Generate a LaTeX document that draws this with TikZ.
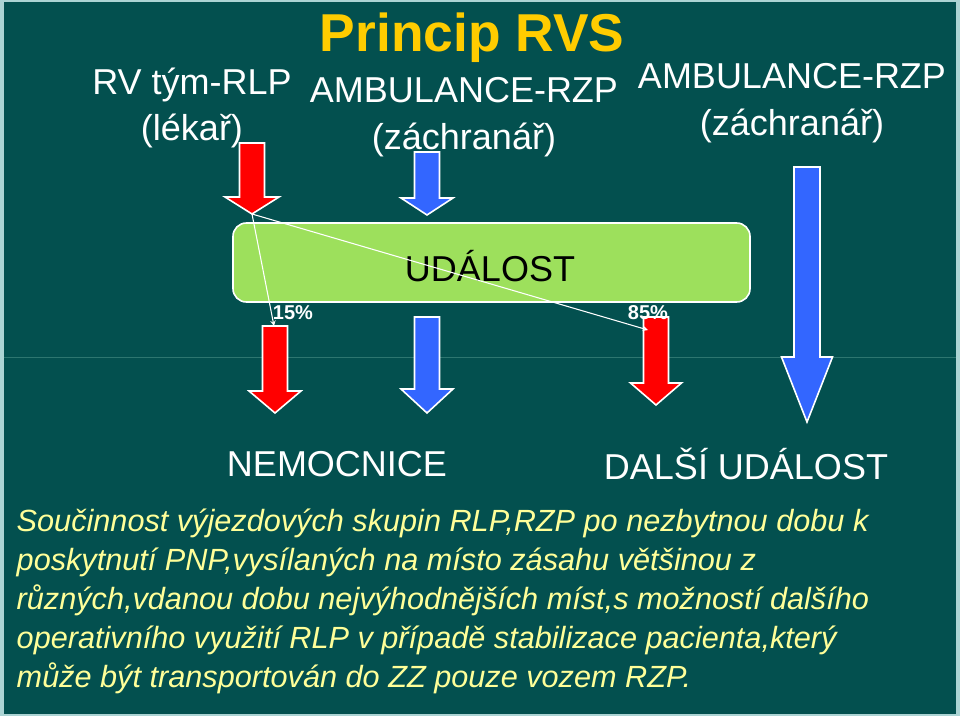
\documentclass[tikz,border=0pt]{standalone}
\usepackage{fontspec}
\setmainfont{Liberation Sans}
\usetikzlibrary{arrows, positioning}
\tikzset{>=stealth}

\definecolor{bgteal}{RGB}{3,80,79}
\definecolor{framecol}{RGB}{172,212,212}
\definecolor{rulecol}{RGB}{45,118,112}
\definecolor{boxgreen}{RGB}{157,224,92}
\definecolor{titleyellow}{RGB}{255,204,0}
\definecolor{textyellow}{RGB}{255,255,153}
\definecolor{arrred}{RGB}{255,0,0}
\definecolor{arrblue}{RGB}{51,102,255}

\tikzset{
  head/.style={text=white, font=\fontsize{27}{35}\selectfont, align=center},
  perc/.style={text=white, font=\bfseries\fontsize{15}{18}\selectfont},
  link/.style={->, white, line width=0.8pt}
}

% name, colour, x, top, head top, tip, half shaft, half head
\newcommand{\rvsarrow}[8]{%
  \draw [white, line width=1.2pt, fill=#2]
    ({#3-#7},#4) -- ({#3+#7},#4) -- ({#3+#7},#5) -- ({#3+#8},#5) -- (#3,#6)
    -- ({#3-#8},#5) -- ({#3-#7},#5) -- cycle;
  \coordinate (#1top) at (#3,#4);
  \coordinate (#1tip) at (#3,#6);}

\begin{document}
\begin{tikzpicture}[x=0.75pt, y=-0.75pt]
        \fill [framecol] (0,0) rectangle (960,716);
        \fill [bgteal] (4,2) rectangle (956,714);
        \useasboundingbox (0,0) rectangle (960,716);
        \draw [rulecol, line width=0.6pt] (4,357)--(956,357);

        \node (title) at (472,38)[text=titleyellow, font=\bfseries\fontsize{40}{44}\selectfont]{Princip RVS};
        \node (rlp) at (192,108)[head]{RV tým-RLP\\(lékař)};
        \node (rzpa) at (464,117)[head]{AMBULANCE-RZP\\(záchranář)};
        \node (rzpb) at (792,103)[head]{AMBULANCE-RZP\\(záchranář)};

        \rvsarrow{ra}{arrred}{252}{143}{197}{214}{12.5}{27}
        \rvsarrow{ba}{arrblue}{427}{152}{198}{215}{12.5}{26}

        \draw [white, line width=1.2pt, fill=boxgreen, rounded corners=10] (233,223) rectangle (750,302);
        \node (udalost) at (490,266)[font=\fontsize{27}{30}\selectfont]{UDÁLOST};

        \rvsarrow{rb}{arrred}{275}{326}{391}{413}{12.5}{26}
        \rvsarrow{bb}{arrblue}{427}{317}{389}{413}{12.5}{26}
        \rvsarrow{rc}{arrred}{656}{317}{383}{405}{12.5}{25.5}
        \rvsarrow{bc}{arrblue}{807}{167}{357}{422}{13}{25.5}

        \coordinate (rbin) at (274,326);
        \coordinate (rcin) at (648,330);
        \draw [link] (ratip)--(rbin);
        \draw [link] (ratip)--(rcin);
        \node (p15) at (293,313)[perc]{15\%};
        \node (p85) at (648,313)[perc]{85\%};

        \node (nem) at (337,464)[head]{NEMOCNICE};
        \node (dalsi) at (746,464)[head]{DALŠÍ UDÁLOST};

        \node (popis) at (12,601)[anchor=west, text=textyellow, align=left,
              font=\itshape\fontsize{23}{29.25}\selectfont]{Součinnost výjezdových skupin RLP,RZP po nezbytnou dobu k\\
poskytnutí PNP,vysílaných na místo zásahu většinou z\\
různých,vdanou dobu nejvýhodnějších míst,s možností dalšího\\
operativního využití RLP v případě stabilizace pacienta,který\\
může být transportován do ZZ pouze vozem RZP.};
\end{tikzpicture}
\end{document}
